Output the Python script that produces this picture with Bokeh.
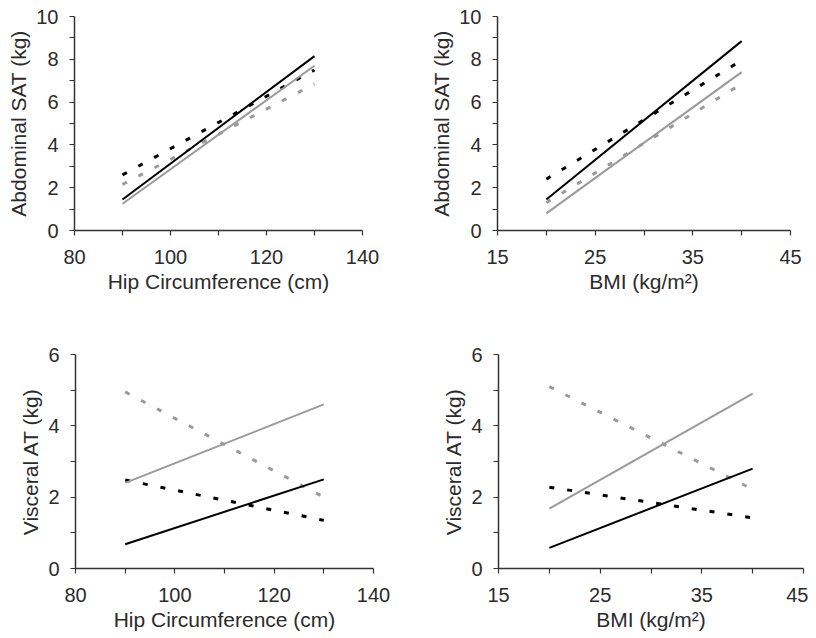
from bokeh.plotting import figure
from bokeh.layouts import column, row
from bokeh.models import FixedTicker
from bokeh.embed import file_html
from bokeh.resources import INLINE

# ---- data (fitted line endpoints) ----
hip_x = [90, 130]
bmi_x = [20, 40]

# Abdominal SAT vs hip circumference
sat_hip_black_solid = [1.45, 8.15]
sat_hip_gray_solid = [1.25, 7.7]
sat_hip_black_dash = [2.6, 7.5]
sat_hip_gray_dash = [2.15, 6.85]

# Abdominal SAT vs BMI
sat_bmi_black_solid = [1.45, 8.85]
sat_bmi_gray_solid = [0.8, 7.4]
sat_bmi_black_dash = [2.4, 7.95]
sat_bmi_gray_dash = [1.3, 6.85]

# Visceral AT vs hip circumference
vat_hip_black_solid = [0.68, 2.5]
vat_hip_gray_solid = [2.4, 4.6]
vat_hip_black_dash = [2.48, 1.35]
vat_hip_gray_dash = [4.95, 2.0]

# Visceral AT vs BMI
vat_bmi_black_solid = [0.58, 2.8]
vat_bmi_gray_solid = [1.68, 4.9]
vat_bmi_black_dash = [2.28, 1.42]
vat_bmi_gray_dash = [5.1, 2.22]

hip_ticks = [80, 90, 100, 110, 120, 130, 140]
hip_labels = [80, 100, 120, 140]
bmi_ticks = [15, 20, 25, 30, 35, 40, 45]
bmi_labels = [15, 25, 35, 45]
sat_ticks = list(range(0, 11))
sat_labels = [0, 2, 4, 6, 8, 10]
vat_ticks = list(range(0, 7))
vat_labels = [0, 2, 4, 6]

FONT = "Liberation Sans"
TXT = "#2b2b2b"
AX = "#333333"
GRAY = "#9a9a9a"


def make(xr, yr, xt, xl, yt, yl, xlabel, ylabel, size, borders, series, xs):
    left, right, top, bottom = borders
    w, h = size
    p = figure(width=w, height=h, x_range=xr, y_range=yr,
               output_backend="svg", toolbar_location=None,
               min_border_left=left, min_border_right=right,
               min_border_top=top, min_border_bottom=bottom)
    p.grid.visible = False
    p.outline_line_color = None
    p.background_fill_color = "white"
    p.border_fill_color = "white"

    p.xaxis.ticker = FixedTicker(ticks=xt)
    p.yaxis.ticker = FixedTicker(ticks=yt)
    p.xaxis.major_label_overrides = {t: ("" if t not in xl else str(t)) for t in xt}
    p.yaxis.major_label_overrides = {t: ("" if t not in yl else str(t)) for t in yt}
    for ax in (p.xaxis[0], p.yaxis[0]):
        ax.axis_line_color = AX
        ax.axis_line_width = 1.5
        ax.major_tick_line_color = AX
        ax.major_tick_line_width = 1.2
        ax.major_tick_in = 0
        ax.major_tick_out = 5
        ax.minor_tick_line_color = None
        ax.major_label_text_font = FONT
        ax.major_label_text_font_size = "20px"
        ax.major_label_text_color = TXT
        ax.axis_label_text_font = FONT
        ax.axis_label_text_font_size = "21px"
        ax.axis_label_text_font_style = "normal"
        ax.axis_label_text_color = TXT
    p.xaxis.major_label_standoff = 14
    p.yaxis.major_label_standoff = 11
    p.xaxis.axis_label_standoff = 3
    p.yaxis.axis_label_standoff = 3
    p.xaxis.axis_label = xlabel
    p.yaxis.axis_label = ylabel

    bs, gs, bd, gd = series
    p.line(xs, gd, line_color=GRAY, line_width=3, line_dash="5 13")
    p.line(xs, bd, line_color="black", line_width=3, line_dash="5 13")
    p.line(xs, gs, line_color=GRAY, line_width=2)
    p.line(xs, bs, line_color="black", line_width=2)
    return p


p1 = make((80, 140), (0, 10), hip_ticks, hip_labels, sat_ticks, sat_labels,
          "Hip Circumference (cm)", "Abdominal SAT (kg)", (408, 319), (74, 46, 16, 89),
          (sat_hip_black_solid, sat_hip_gray_solid, sat_hip_black_dash, sat_hip_gray_dash), hip_x)
p2 = make((15, 45), (0, 10), bmi_ticks, bmi_labels, sat_ticks, sat_labels,
          "BMI (kg/m²)", "Abdominal SAT (kg)", (400, 319), (89, 18, 16, 89),
          (sat_bmi_black_solid, sat_bmi_gray_solid, sat_bmi_black_dash, sat_bmi_gray_dash), bmi_x)
p3 = make((80, 140), (0, 6), hip_ticks, hip_labels, vat_ticks, vat_labels,
          "Hip Circumference (cm)", "Visceral AT (kg)", (408, 318), (75, 35, 35, 69),
          (vat_hip_black_solid, vat_hip_gray_solid, vat_hip_black_dash, vat_hip_gray_dash), hip_x)
p4 = make((15, 45), (0, 6), bmi_ticks, bmi_labels, vat_ticks, vat_labels,
          "BMI (kg/m²)", "Visceral AT (kg)", (400, 318), (90, 5, 35, 69),
          (vat_bmi_black_solid, vat_bmi_gray_solid, vat_bmi_black_dash, vat_bmi_gray_dash), bmi_x)

layout = column(row(p1, p2, spacing=0), row(p3, p4, spacing=0), spacing=0)
open("out.html", "w").write(file_html(layout, INLINE))
